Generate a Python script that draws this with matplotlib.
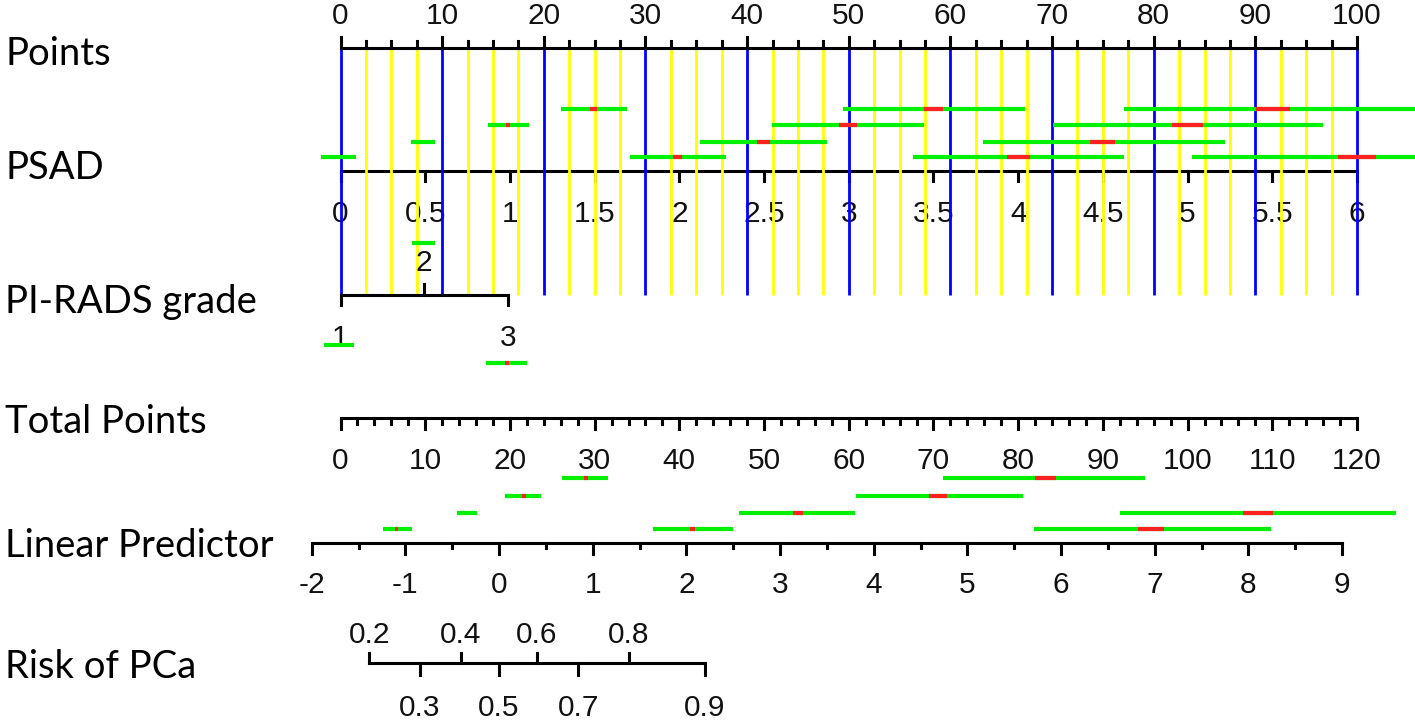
import numpy as np
import matplotlib
matplotlib.use("Agg")
import matplotlib.pyplot as plt

# ---------------- data ----------------
points_ticks = list(range(0, 101, 10))
points_minor = [v for v in np.arange(0, 100.01, 2.5) if v % 10 != 0]
psad_ticks = [0, 0.5, 1, 1.5, 2, 2.5, 3, 3.5, 4, 4.5, 5, 5.5, 6]
psad_labels = ["0", "0.5", "1", "1.5", "2", "2.5", "3", "3.5", "4", "4.5", "5", "5.5", "6"]
psad_max = 6
pirads_grades = [1, 2, 3]
pirads_points = [0, 8.2, 16.5]
total_ticks = list(range(0, 121, 10))
total_minor = [v for v in range(0, 121, 2) if v % 10 != 0]
total_max = 120
lp_ticks = list(range(-2, 10))
lp_minor = [v + 0.5 for v in range(-2, 9)]
risk_up = [0.2, 0.4, 0.6, 0.8]
risk_down = [0.3, 0.5, 0.7, 0.9]

# interval segments on the Points scale: (low, high, red_low, red_high)
psad_rows = [
    [(21.7, 28.2, 24.55, 25.25), (49.4, 67.3, 57.4, 59.3), (77.1, 106.5, 90.1, 93.4)],
    [(14.5, 18.55, 16.3, 16.7), (42.45, 57.4, 49.0, 50.8), (70.1, 96.65, 81.8, 84.85)],
    [(6.95, 9.3, None, None), (35.4, 47.9, 41.0, 42.3), (63.2, 87.0, 73.7, 76.2)],
    [(-1.9, 1.5, None, None), (28.5, 37.9, 32.7, 33.6), (56.3, 77.1, 65.6, 67.8), (83.8, 106.5, 98.1, 101.9)],
]
pirads_segs = [
    (6.99, 9.29, None, None),
    (-1.62, 1.33, None, None),
    (14.3, 18.35, 16.2, 16.6),
]
# interval segments on the Total Points scale
total_rows = [
    [(26.15, 31.6, 28.75, 29.2), (71.1, 95.0, 82.0, 84.5)],
    [(19.4, 23.7, 21.4, 21.9), (60.9, 80.6, 69.45, 71.6)],
    [(13.75, 16.1, None, None), (47.0, 60.7, 53.4, 54.6), (92.0, 124.6, 106.5, 110.1)],
    [(5.0, 8.45, 6.4, 6.8), (36.9, 46.3, 41.3, 41.85), (81.9, 109.8, 94.1, 97.2)],
]
row_labels = ["Points", "PSAD", "PI-RADS grade", "Total Points", "Linear Predictor", "Risk of PCa"]

# ---------------- scales (data x unit = Points) ----------------
PX_PER_PT = 10.165
X0 = 340.5
W, H = 1415, 727


def px_to_pts(px):
    return (px - X0) / PX_PER_PT


def psad_to_pts(v):
    return v * 100.0 / psad_max


def total_to_pts(t):
    return t * 100.0 / total_max


LP_LEFT_PX, LP_RIGHT_PX = 311.7, 1342.0


def lp_to_pts(v):
    return px_to_pts(LP_LEFT_PX + (v + 2) * (LP_RIGHT_PX - LP_LEFT_PX) / 11.0)


def risk_to_pts(p):
    return lp_to_pts(np.log(p / (1 - p)))


# ---------------- figure ----------------
fig = plt.figure(figsize=(W / 100, H / 100), dpi=100)
ax = fig.add_axes([0, 0, 1, 1])
ax.set_xlim(px_to_pts(0), px_to_pts(W))
ax.set_ylim(H, 0)
ax.axis("off")

LABEL_FONT = dict(family=["Lato", "DejaVu Sans"], fontsize=27.5, color="black")
NUM_FONT = dict(family=["Liberation Sans", "DejaVu Sans"], fontsize=21.5, color="#111111")
AX_LW = 2.2
TICK_LW = 2.2
SEG_LW = 3.0

# row geometry (pixel rows)
Y_POINTS, Y_PSAD, Y_PIR, Y_TOT, Y_LP, Y_RISK = 48, 171, 295, 418, 543, 663

# left labels (baselines)
for lab, yb in zip(row_labels, [65, 179, 313, 433, 557, 678]):
    ax.text(px_to_pts(5), yb, lab, ha="left", va="baseline", **LABEL_FONT)

# vertical reference lines
for v in points_ticks:
    ax.plot([v, v], [Y_POINTS, Y_PIR], color="#0000ff", lw=2.0, zorder=3, solid_capstyle="butt")
for v in points_minor:
    ax.plot([v, v], [Y_POINTS, Y_PIR], color="#ffff00", lw=2.0, zorder=3, solid_capstyle="butt")

# Points axis
ax.plot([0, 100], [Y_POINTS, Y_POINTS], color="black", lw=AX_LW, zorder=4)
for v in points_ticks:
    ax.plot([v, v], [Y_POINTS, Y_POINTS - 11], color="black", lw=TICK_LW, zorder=4)
    ax.text(v, 24, str(v), ha="center", va="baseline", **NUM_FONT)
for v in points_minor:
    ax.plot([v, v], [Y_POINTS, Y_POINTS - 7], color="black", lw=TICK_LW, zorder=4)

# PSAD axis
ax.plot([psad_to_pts(0), psad_to_pts(psad_max)], [Y_PSAD, Y_PSAD], color="black", lw=AX_LW, zorder=2)
for v, lab in zip(psad_ticks, psad_labels):
    ax.plot([psad_to_pts(v)] * 2, [Y_PSAD, Y_PSAD + 10], color="black", lw=TICK_LW, zorder=2)
    ax.text(psad_to_pts(v), 222, lab, ha="center", va="baseline", zorder=1, **NUM_FONT)


def draw_segments(segs, y, conv):
    for lo, hi, rlo, rhi in segs:
        ax.plot([conv(lo), conv(hi)], [y, y], color="#00f000", lw=SEG_LW, zorder=5,
                solid_capstyle="butt")
        if rlo is not None:
            ax.plot([conv(rlo), conv(rhi)], [y, y], color="#ff2020", lw=SEG_LW, zorder=6,
                    solid_capstyle="butt")


for segs, y in zip(psad_rows, [108.8, 124.5, 141.6, 156.8]):
    draw_segments(segs, y, lambda v: v)

# PI-RADS axis
ax.plot([pirads_points[0], pirads_points[-1]], [Y_PIR, Y_PIR], color="black", lw=AX_LW, zorder=4)
for g, p in zip(pirads_grades, pirads_points):
    if g == 2:
        ax.plot([p, p], [Y_PIR, Y_PIR - 11], color="black", lw=TICK_LW, zorder=4)
        ax.text(p, 271, str(g), ha="center", va="baseline", **NUM_FONT)
    else:
        ax.plot([p, p], [Y_PIR, Y_PIR + 10], color="black", lw=TICK_LW, zorder=4)
        ax.text(p, 345.5, str(g), ha="center", va="baseline", **NUM_FONT)
for (lo, hi, rlo, rhi), y in zip(pirads_segs, [242.7, 345.3, 362.7]):
    draw_segments([(lo, hi, rlo, rhi)], y, lambda v: v)

# Total Points axis
ax.plot([total_to_pts(0), total_to_pts(total_max)], [Y_TOT, Y_TOT], color="black", lw=AX_LW)
for v in total_ticks:
    ax.plot([total_to_pts(v)] * 2, [Y_TOT, Y_TOT + 11], color="black", lw=TICK_LW)
    ax.text(total_to_pts(v), 469, str(v), ha="center", va="baseline", **NUM_FONT)
for v in total_minor:
    ax.plot([total_to_pts(v)] * 2, [Y_TOT, Y_TOT + 6], color="black", lw=TICK_LW)

for segs, y in zip(total_rows, [478, 495.5, 512.5, 528.5]):
    draw_segments(segs, y, total_to_pts)

# Linear Predictor axis
ax.plot([lp_to_pts(-2), lp_to_pts(9)], [Y_LP, Y_LP], color="black", lw=AX_LW)
for v in lp_ticks:
    ax.plot([lp_to_pts(v)] * 2, [Y_LP, Y_LP + 11], color="black", lw=TICK_LW)
    ax.text(lp_to_pts(v), 593, str(v), ha="center", va="baseline", **NUM_FONT)
for v in lp_minor:
    ax.plot([lp_to_pts(v)] * 2, [Y_LP, Y_LP + 5], color="black", lw=TICK_LW)

# Risk axis
ax.plot([risk_to_pts(min(risk_up)), risk_to_pts(max(risk_down))], [Y_RISK, Y_RISK], color="black", lw=AX_LW)
for v in risk_up:
    ax.plot([risk_to_pts(v)] * 2, [Y_RISK, Y_RISK - 10], color="black", lw=TICK_LW)
    ax.text(risk_to_pts(v), 643, f"{v:.1f}", ha="center", va="baseline", **NUM_FONT)
for v in risk_down:
    ax.plot([risk_to_pts(v)] * 2, [Y_RISK, Y_RISK + 12], color="black", lw=TICK_LW)
    ax.text(risk_to_pts(v), 716, f"{v:.1f}", ha="center", va="baseline", **NUM_FONT)

fig.savefig("out.png", dpi=100, facecolor="white")
